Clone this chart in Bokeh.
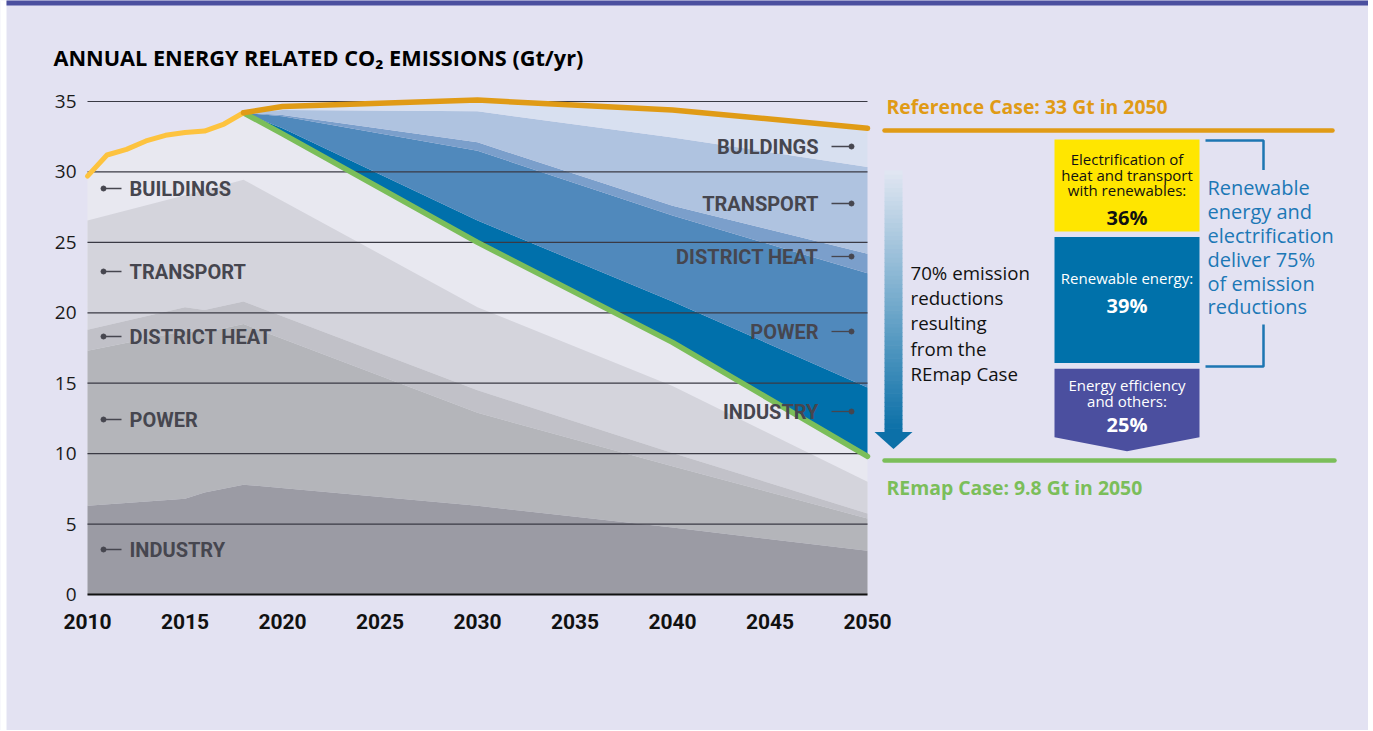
import numpy as np
from bokeh.plotting import figure
from bokeh.models import Range1d
from bokeh.core.properties import value
from bokeh.embed import file_html
from bokeh.resources import INLINE

# ---------------- data (Gt CO2 / yr) ----------------
hist_years = [2010, 2011, 2012, 2013, 2014, 2015, 2016, 2017, 2018]
hist_total = [29.7, 31.2, 31.6, 32.2, 32.6, 32.8, 32.9, 33.4, 34.2]

remap_years = [2018, 2020, 2030, 2040, 2050]
remap_total = [34.2, 32.7, 25.0, 17.9, 9.8]

# REmap case emissions by sector (buildings = remainder up to total)
sector_years = [2010, 2015, 2016, 2018, 2030, 2040, 2050]
industry = [6.3, 6.8, 7.25, 7.8, 6.3, 4.75, 3.1]
power = [11.0, 11.9, 11.35, 11.4, 6.6, 4.35, 2.3]
district_heat = [1.5, 1.7, 1.6, 1.6, 1.6, 0.95, 0.35]
transport = [7.75, 7.95, 8.5, 8.65, 5.9, 4.75, 2.25]

# reductions vs Reference case, by sector (on remap_years)
red_industry = [0.0, 0.4, 1.55, 2.9, 4.9]
red_power = [0.0, 0.85, 4.95, 6.1, 8.1]
red_district_heat = [0.0, 0.1, 0.6, 0.7, 1.4]
red_transport = [0.0, 0.35, 2.2, 4.85, 6.15]
red_buildings = [0.0, 0.25, 0.8, 1.95, 2.75]

sector_names = ["BUILDINGS", "TRANSPORT", "DISTRICT HEAT", "POWER", "INDUSTRY"]
y_ticks = [0, 5, 10, 15, 20, 25, 30, 35]
x_ticks = [2010, 2015, 2020, 2025, 2030, 2035, 2040, 2045, 2050]

# ---------------- layout ----------------
W, H = 1368, 730
PXY = 19.5          # px per year
PXG = 14.0857       # px per Gt
x_start = 2010 - 87 / PXY
x_end = x_start + W / PXY
y_end = 594 / PXG
y_start = y_end - H / PXG


def X(px):
    return x_start + px / PXY


def Y(py):
    return y_end - py / PXG


BG = "#E3E2F2"
FONT = value("Open Sans")
LBL = value("Roboto")

p = figure(width=W, height=H, x_range=Range1d(x_start, x_end), y_range=Range1d(y_start, y_end),
           output_backend="svg", toolbar_location=None, x_axis_type=None, y_axis_type=None,
           background_fill_color=BG, border_fill_color=BG, outline_line_color=None,
           min_border=0, min_border_left=0, min_border_right=0, min_border_top=0, min_border_bottom=0)
p.grid.visible = False

# page frame: white left strip and top band
p.quad(left=[X(-2)], right=[X(6)], top=[Y(-2)], bottom=[Y(H + 2)], fill_color="#FFFFFF", line_color=None)
p.quad(left=[X(6)], right=[X(W + 2)], top=[Y(-2)], bottom=[Y(5)], fill_color="#4B4F9F", line_color=None)

# ---------------- grey REmap stack ----------------
bx = hist_years + remap_years[1:]
by = hist_total + remap_total[1:]
p.varea(x=bx, y1=[0] * len(bx), y2=by, fill_color="#E8E8F0")

grey_cols = ["#9B9BA4", "#B4B5BA", "#C1C1C8", "#D4D4DC"]
base = np.zeros(len(sector_years))
bands = []
for vals, col in zip([industry, power, district_heat, transport], grey_cols):
    top = base + np.array(vals)
    bands.append((base.copy(), top.copy(), col))
    base = top
for lo, hi, col in reversed(bands):
    p.varea(x=sector_years, y1=lo, y2=hi, fill_color=col)

# ---------------- blue reductions ----------------
blue_cols = ["#0070AB", "#5089BC", "#7B9FCB", "#AFC3E0", "#D8E0F0"]
base = np.array(remap_total, dtype=float)
for vals, col in zip([red_industry, red_power, red_district_heat, red_transport, red_buildings], blue_cols):
    top = base + np.array(vals)
    p.varea(x=remap_years, y1=base, y2=top, fill_color=col)
    base = top
ref_total = base

# ---------------- grid ----------------
p.segment(x0=[2010] * 7, x1=[2050] * 7, y0=y_ticks[1:], y1=y_ticks[1:], line_color="#3A3A44", line_width=1.2)
p.segment(x0=[2010], x1=[2050], y0=[0], y1=[0], line_color="#111111", line_width=2.2)

# ---------------- lines ----------------
p.line(remap_years, remap_total, line_color="#7BBE5A", line_width=5.5, line_cap="round", line_join="round")
p.line(hist_years, hist_total, line_color="#FDC33F", line_width=5, line_cap="round", line_join="round")
p.line(remap_years, ref_total, line_color="#E09B16", line_width=5.5, line_cap="round", line_join="round")

# ---------------- tick labels ----------------
p.text(x=[X(76)] * len(y_ticks), y=y_ticks, text=[str(v) for v in y_ticks], text_font=FONT,
       text_font_size="19px", text_align="right", text_baseline="middle", text_color="#1A1A1A")
p.text(x=x_ticks, y=[Y(621)] * len(x_ticks), text=[str(v) for v in x_ticks], text_font=LBL,
       text_font_size="21px", text_font_style="bold", text_align="center", text_baseline="middle",
       text_color="#111111")

# title
p.text(x=[X(53)], y=[Y(57)], text=["ANNUAL ENERGY RELATED CO\u2082 EMISSIONS (Gt/yr)"], text_font=FONT,
       text_font_size="21.7px", text_font_style="bold", text_align="left", text_baseline="middle",
       text_color="#000000")

# ---------------- sector labels ----------------
LAB_COL = "#46464F"
left_py = [188, 271, 336, 419, 549]
right_py = [146, 203, 256, 331, 411]
ly = [Y(v) for v in left_py]
ry = [Y(v) for v in right_py]
p.segment(x0=[X(103)] * 5, x1=[X(121)] * 5, y0=ly, y1=ly, line_color=LAB_COL, line_width=1.3)
p.scatter(x=[X(103)] * 5, y=ly, size=5, color=LAB_COL)
p.text(x=[X(129)] * 5, y=ly, text=sector_names, text_font=LBL, text_font_size="20px",
       text_font_style="bold", text_align="left", text_baseline="middle", text_color=LAB_COL)
p.segment(x0=[X(831)] * 5, x1=[X(851)] * 5, y0=ry, y1=ry, line_color=LAB_COL, line_width=1.3)
p.scatter(x=[X(851)] * 5, y=ry, size=5, color=LAB_COL)
p.text(x=[X(818)] * 5, y=ry, text=sector_names, text_font=LBL, text_font_size="20px",
       text_font_style="bold", text_align="right", text_baseline="middle", text_color=LAB_COL)

# ---------------- right panel ----------------
ORANGE = "#E09B16"
GREEN = "#7BBE5A"
p.segment(x0=[X(884)], x1=[X(1332)], y0=[Y(130)], y1=[Y(130)], line_color=ORANGE, line_width=4.5, line_cap="round")
p.text(x=[X(886)], y=[Y(106)], text=["Reference Case: 33 Gt in 2050"], text_font=FONT, text_font_size="19.4px",
       text_font_style="bold", text_align="left", text_baseline="middle", text_color=ORANGE)
p.segment(x0=[X(884)], x1=[X(1334)], y0=[Y(460)], y1=[Y(460)], line_color=GREEN, line_width=4.5, line_cap="round")
p.text(x=[X(886)], y=[Y(487)], text=["REmap Case: 9.8 Gt in 2050"], text_font=FONT, text_font_size="19.4px",
       text_font_style="bold", text_align="left", text_baseline="middle", text_color=GREEN)

# gradient arrow
c_top = np.array([224, 230, 242])
c_bot = np.array([12, 112, 168])
n = 60
edges = np.linspace(170, 432, n + 1)
cols = []
for i in range(n):
    t = i / (n - 1)
    c = (c_top * (1 - t) + c_bot * t).astype(int)
    cols.append("#%02x%02x%02x" % tuple(c))
p.quad(left=[X(884)] * n, right=[X(902)] * n, top=[Y(v) for v in edges[:-1]],
       bottom=[Y(v + 0.6) for v in edges[1:]], fill_color=cols, line_color=None)
p.patch(x=[X(874), X(912), X(893)], y=[Y(431.5), Y(431.5), Y(448.5)], fill_color="#0C70A8", line_color=None)

arrow_text = ["70% emission", "reductions", "resulting", "from the", "REmap Case"]
p.text(x=[X(910)] * 5, y=[Y(v) for v in [271.5, 296.5, 322, 347.5, 373]], text=arrow_text, text_font=FONT,
       text_font_size="18.7px", text_align="left", text_baseline="middle", text_color="#111111")

# boxes
p.quad(left=[X(1054)], right=[X(1199)], top=[Y(139)], bottom=[Y(231)], fill_color="#FFE600", line_color=None)
p.quad(left=[X(1054)], right=[X(1199)], top=[Y(236.5)], bottom=[Y(362.5)], fill_color="#0071AA", line_color=None)
p.patch(x=[X(1054), X(1199), X(1199), X(1126.5), X(1054)],
        y=[Y(368.3), Y(368.3), Y(436.7), Y(450.7), Y(436.7)], fill_color="#4B4F9F", line_color=None)

cx = X(1126.5)
p.text(x=[cx] * 3, y=[Y(158.5), Y(174), Y(189.5)],
       text=["Electrification of", "heat and transport", "with renewables:"], text_font=FONT,
       text_font_size="15px", text_align="center", text_baseline="middle", text_color="#111111")
p.text(x=[cx], y=[Y(216.5)], text=["36%"], text_font=FONT, text_font_size="20px", text_font_style="bold",
       text_align="center", text_baseline="middle", text_color="#111111")
p.text(x=[cx], y=[Y(277)], text=["Renewable energy:"], text_font=FONT, text_font_size="15px",
       text_align="center", text_baseline="middle", text_color="#FFFFFF")
p.text(x=[cx], y=[Y(305)], text=["39%"], text_font=FONT, text_font_size="20px", text_font_style="bold",
       text_align="center", text_baseline="middle", text_color="#FFFFFF")
p.text(x=[cx] * 2, y=[Y(384), Y(400)], text=["Energy efficiency", "and others:"], text_font=FONT,
       text_font_size="15px", text_align="center", text_baseline="middle", text_color="#FFFFFF")
p.text(x=[cx], y=[Y(424)], text=["25%"], text_font=FONT, text_font_size="20px", text_font_style="bold",
       text_align="center", text_baseline="middle", text_color="#FFFFFF")

# bracket
BR = "#1D76B2"
p.line(x=[X(1205), X(1263), X(1263)], y=[Y(140), Y(140), Y(169.5)], line_color=BR, line_width=2.5)
p.line(x=[X(1263), X(1263), X(1205)], y=[Y(324), Y(366), Y(366)], line_color=BR, line_width=2.5)
blue_text = ["Renewable", "energy and", "electrification", "deliver 75%", "of emission", "reductions"]
p.text(x=[X(1207)] * 6, y=[Y(v) for v in [187.3, 210.7, 235, 259.3, 282.7, 306]], text=blue_text,
       text_font=FONT, text_font_size="20px", text_align="left", text_baseline="middle", text_color="#1C78B6")

open("out.html", "w").write(file_html(p, INLINE))
